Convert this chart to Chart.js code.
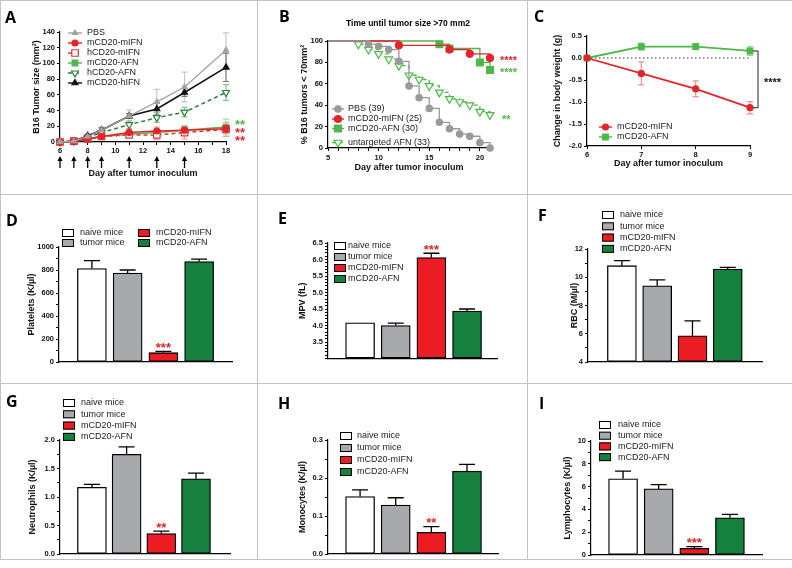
<!doctype html>
<html>
<head>
<meta charset="utf-8">
<title>Tumor growth and blood counts</title>
<script src="https://cdn.jsdelivr.net/npm/chart.js@4/dist/chart.umd.min.js"></script>
<style>
    body { margin: 0; background: #fff; }
    #fig { position: relative; width: 792px; height: 568px; overflow: hidden; }
    #fig canvas { position: absolute; left: 0; top: 0; }
    .rule { position: absolute; background: #c2c2c2; }
</style>
</head>
<body>
<div id="fig">
    <div class="rule" style="left:0;top:0;width:792px;height:1px"></div>
    <div class="rule" style="left:0;top:0;width:1px;height:560px"></div>
    <div class="rule" style="left:0;top:559px;width:792px;height:1px"></div>
    <div class="rule" style="left:257px;top:0;width:1px;height:560px"></div>
    <div class="rule" style="left:527px;top:0;width:1px;height:560px"></div>
    <div class="rule" style="left:0;top:194px;width:792px;height:1px"></div>
    <div class="rule" style="left:0;top:383px;width:792px;height:1px"></div>
    <canvas id="chartA" width="792" height="568"></canvas>
    <canvas id="chartB" width="792" height="568"></canvas>
    <canvas id="chartC" width="792" height="568"></canvas>
    <canvas id="chartD" width="792" height="568"></canvas>
    <canvas id="chartE" width="792" height="568"></canvas>
    <canvas id="chartF" width="792" height="568"></canvas>
    <canvas id="chartG" width="792" height="568"></canvas>
    <canvas id="chartH" width="792" height="568"></canvas>
    <canvas id="chartI" width="792" height="568"></canvas>
</div>
<script>
    // ---- data -------------------------------------------------------------
    // A: tumor growth (mm2), mean and SEM
    var growthDays = [6, 7, 8, 9, 11, 13, 15, 18];
    var injectionDays = [6, 7, 8, 9, 11, 13, 15];
    var growthPBS = [0, 1, 7, 15, 33, 51, 70, 117];
    var growthPBSErr = [0.5, 1, 2, 4, 8, 16, 19, 22];
    var growthMmIFN = [0, 1, 4, 7, 12, 14, 15, 17];
    var growthMmIFNErr = [0.5, 1, 1, 2, 3, 5, 6, 5];
    var growthHmIFN = [0, 1, 4, 7, 9, 9, 12, 16];
    var growthHmIFNErr = [0.5, 1, 1, 2, 3, 6, 8, 9];
    var growthMAFN = [0, 1, 3, 7, 10, 12, 15, 19];
    var growthMAFNErr = [0.5, 1, 1, 2, 3, 4, 6, 10];
    var growthHAFN = [0, 1, 6, 12, 22, 31, 38, 63];
    var growthHAFNErr = [0.5, 1, 2, 3, 5, 6, 6, 10];
    var growthMhIFN = [0, 1, 8, 15, 33, 42, 63, 95];
    var growthMhIFNErr = [0.5, 1, 2, 3, 3, 8, 5, 18];

    // B: % tumors < 70 mm2 (Kaplan-Meier)
    var survPBSDays = [5, 9, 10, 11, 12, 13, 14, 15, 16, 17, 18, 19, 20, 21];
    var survPBS = [100, 97, 95, 92, 81, 58, 47, 37, 24, 18, 13, 11, 5, 0];
    var survMmIFNDays = [5, 12, 17, 19, 21];
    var survMmIFN = [100, 96, 92, 88, 84];
    var survMAFNDays = [5, 16, 17, 20, 21];
    var survMAFN = [100, 97, 93, 80, 73];
    var survAFNDays = [5, 8, 9, 10, 11, 12, 13, 14, 15, 16, 17, 18, 19, 20, 21];
    var survAFN = [100, 97, 92, 88, 83, 77, 68, 64, 58, 52, 46, 43, 40, 34, 31];

    // C: change in body weight (g)
    var weightDays = [6, 7, 8, 9];
    var weightMIFN = [0, -0.35, -0.7, -1.13];
    var weightMIFNErr = [0, 0.26, 0.18, 0.14];
    var weightAFN = [0, 0.26, 0.26, 0.16];
    var weightAFNErr = [0, 0.08, 0.07, 0.1];

    // D-I: blood counts per group
    var groups = ['naive mice', 'tumor mice', 'mCD20-mIFN', 'mCD20-AFN'];
    var platelets = [812, 773, 81, 873];
    var plateletsErr = [70, 27, 12, 22];
    var mpv = [4.08, 4.0, 6.06, 4.44];
    var mpvErr = [0, 0.07, 0.13, 0.06];
    var rbc = [10.82, 9.4, 5.86, 10.58];
    var rbcErr = [0.35, 0.42, 1.05, 0.12];
    var neutrophils = [1.17, 1.75, 0.36, 1.32];
    var neutrophilsErr = [0.05, 0.13, 0.04, 0.1];
    var monocytes = [0.151, 0.129, 0.057, 0.218];
    var monocytesErr = [0.018, 0.019, 0.015, 0.018];
    var lymphocytes = [6.68, 5.8, 0.59, 3.27];
    var lymphocytesErr = [0.68, 0.38, 0.15, 0.3];

    // ---- look -------------------------------------------------------------
    var FONT = '"Liberation Sans", Arial, Helvetica, sans-serif';
    var LETTER_FONT = 'bold 16px "Open Sans", "Liberation Sans", sans-serif';
    var PAGE_W = 792, PAGE_H = 568, TITLE_LH = 10.8;
    var RED = '#e3242b', GREEN = '#4db848', DARK_GREEN = '#2e7b3b';
    var groupFill = ['#ffffff', '#a7a9ac', '#ec1c24', '#16803e'];

    function pts(xs, ys) {
        return xs.map(function (x, i) { return {x: x, y: ys[i]}; });
    }

    // turns a plot rectangle (page pixels) into layout padding + axis sizes
    function frame(f) {
        var padLeft = f.yTitleX - TITLE_LH / 2;
        var xBottom = f.xTitleY ? f.xTitleY + TITLE_LH / 2 : f.b;
        f.pad = {left: padLeft, top: f.t, right: PAGE_W - f.r, bottom: PAGE_H - xBottom};
        f.yW = f.l - padLeft;
        f.xH = xBottom - f.b;
        return f;
    }

    function every(step, digits, from) {
        return function (v) {
            var k = Math.round(v / step);
            if (Math.abs(v - k * step) > 1e-6) return '';
            if (from !== undefined && v < from - 1e-6) return '';
            return (k * step).toFixed(digits);
        };
    }

    function tickFont() { return {family: FONT, size: 7.5, weight: 'bold'}; }
    function titleFont() { return {family: FONT, size: 9, weight: 'bold'}; }

    function yAxis(f, min, max, step, label) {
        return {
            type: 'linear', position: 'left', min: min, max: max, offset: false, beginAtZero: false,
            afterFit: function (s) { s.width = f.yW; },
            border: {display: true, color: '#000', width: 1.2},
            grid: {drawOnChartArea: false, tickLength: 3, color: '#000', lineWidth: 1},
            ticks: {stepSize: step, includeBounds: false, autoSkip: false, maxTicksLimit: 200,
                padding: 2, color: '#111', font: tickFont(), callback: label},
            title: {display: true, text: f.yTitle, padding: 0, color: '#111', font: titleFont()}
        };
    }

    function xAxisDays(f, min, max, label, pad) {
        return {
            type: 'linear', position: 'bottom', min: min, max: max,
            afterFit: function (s) { s.height = f.xH; },
            border: {display: true, color: '#000', width: 1.2},
            grid: {drawOnChartArea: false, tickLength: 3, color: '#000', lineWidth: 1},
            ticks: {stepSize: 1, includeBounds: false, autoSkip: false, maxTicksLimit: 200, maxRotation: 0,
                padding: pad, color: '#111', font: tickFont(), callback: label},
            title: {display: true, text: 'Day after tumor inoculum', padding: 0, color: '#111', font: titleFont()}
        };
    }

    function xAxisBars(f) {
        return {
            type: 'linear', position: 'bottom', min: f.xmin, max: f.xmax, offset: false,
            afterFit: function (s) { s.height = 0; },
            border: {display: true, color: '#000', width: 1.2},
            grid: {display: false, offset: false},
            ticks: {display: false}
        };
    }

    function baseOptions(f, scales) {
        return {
            responsive: false,
            animation: false,
            events: [],
            layout: {padding: f.pad, autoPadding: false},
            plugins: {legend: {display: false}, tooltip: {enabled: false}},
            scales: scales
        };
    }

    function lineSeries(label, xs, ys, errs, st) {
        return {
            label: label, data: pts(xs, ys),
            err: errs, errBoth: true, errColor: st.errColor, capHalf: 3,
            borderColor: st.color, backgroundColor: st.color,
            borderWidth: st.width || 1.5, borderDash: st.dash || [],
            pointStyle: st.style, pointRotation: st.rot || 0,
            pointRadius: st.skipFirst ? xs.map(function (x, i) { return i === 0 ? 0 : st.r; }) : st.r,
            legendRadius: st.r,
            pointBackgroundColor: st.fill, pointBorderColor: st.color, pointBorderWidth: 1.2,
            stepped: st.stepped || false, tension: 0, fill: false, clip: false
        };
    }

    function barSeries(values, errs, base) {
        return {
            data: pts([0, 1, 2, 3], values), err: errs, errColor: '#000', errWidth: 1.3, capHalf: 8,
            base: base,
            backgroundColor: groupFill, borderColor: '#000', borderWidth: 1.3,
            borderSkipped: false, barThickness: 29
        };
    }

    // ---- drawing helpers --------------------------------------------------
    function drawMarker(ctx, style, rot, x, y, r, fill, stroke) {
        ctx.save();
        ctx.setLineDash([]);
        ctx.beginPath();
        if (style === 'circle') {
            ctx.arc(x, y, r, 0, Math.PI * 2);
        } else if (style === 'rect') {
            var s = r * Math.SQRT1_2;
            ctx.rect(x - s, y - s, 2 * s, 2 * s);
        } else {
            var a = (rot || 0) * Math.PI / 180;
            for (var k = 0; k < 3; k++) {
                var px = x + Math.sin(a) * r, py = y - Math.cos(a) * r;
                if (k === 0) ctx.moveTo(px, py); else ctx.lineTo(px, py);
                a += Math.PI * 2 / 3;
            }
            ctx.closePath();
        }
        ctx.fillStyle = fill;
        ctx.fill();
        ctx.lineWidth = 1.2;
        ctx.strokeStyle = stroke;
        ctx.stroke();
        ctx.restore();
    }

    function stars(ctx, text, x, yc, size, color, align) {
        ctx.font = 'bold ' + size + 'px ' + FONT;
        ctx.fillStyle = color;
        ctx.textAlign = align || 'left';
        ctx.textBaseline = 'alphabetic';
        ctx.fillText(text, x, yc + 0.58 * size);
    }

    function extras(spec) {
        return {
            id: 'extras',
            beforeDatasetsDraw: function (chart) {
                var ctx = chart.ctx, ys = chart.scales.y;
                chart.data.datasets.forEach(function (ds, i) {
                    if (!ds.err) return;
                    var meta = chart.getDatasetMeta(i);
                    ctx.save();
                    ctx.strokeStyle = ds.errColor;
                    ctx.lineWidth = ds.errWidth || 1.2;
                    meta.data.forEach(function (el, j) {
                        var e = ds.err[j];
                        if (!e) return;
                        var v = ds.data[j].y, cap = ds.capHalf;
                        var top = ys.getPixelForValue(v + e);
                        var bot = ds.errBoth ? ys.getPixelForValue(v - e) : el.y;
                        ctx.beginPath();
                        ctx.moveTo(el.x, top); ctx.lineTo(el.x, bot);
                        ctx.moveTo(el.x - cap, top); ctx.lineTo(el.x + cap, top);
                        if (ds.errBoth) { ctx.moveTo(el.x - cap, bot); ctx.lineTo(el.x + cap, bot); }
                        ctx.stroke();
                    });
                    ctx.restore();
                });
            },
            afterDraw: function (chart) {
                var ctx = chart.ctx;
                ctx.save();
                ctx.fillStyle = '#000';
                ctx.font = LETTER_FONT;
                ctx.textAlign = 'left';
                ctx.textBaseline = 'middle';
                ctx.fillText(spec.letter[0], spec.letter[1], spec.letter[2]);

                if (spec.title) {
                    ctx.font = 'bold 8.5px ' + FONT;
                    ctx.textAlign = 'center';
                    ctx.fillText(spec.title[0], spec.title[1], spec.title[2]);
                }

                var lg = spec.legend;
                if (lg && lg.kind === 'line') {
                    var items = chart.data.datasets.filter(function (d) { return d.legend !== false; });
                    items.forEach(function (d, i) {
                        var y = lg.ys ? lg.ys[i] : lg.y + i * lg.dy;
                        ctx.save();
                        ctx.strokeStyle = d.borderColor;
                        ctx.lineWidth = 1.4;
                        ctx.setLineDash(d.borderDash);
                        ctx.beginPath();
                        ctx.moveTo(lg.x, y); ctx.lineTo(lg.x + lg.w, y);
                        ctx.stroke();
                        ctx.restore();
                        drawMarker(ctx, d.pointStyle, d.pointRotation, lg.x + lg.w / 2, y,
                            d.legendRadius, d.pointBackgroundColor, d.pointBorderColor);
                        ctx.font = '9px ' + FONT;
                        ctx.fillStyle = '#222';
                        ctx.textAlign = 'left';
                        ctx.textBaseline = 'middle';
                        ctx.fillText(d.label, lg.textX, y);
                    });
                }
                if (lg && lg.kind === 'box') {
                    groups.forEach(function (g, i) {
                        var p = lg.pos ? lg.pos[i] : [lg.x, lg.y + i * lg.dy];
                        ctx.fillStyle = groupFill[i];
                        ctx.fillRect(p[0], p[1] - 4, 12, 8);
                        ctx.lineWidth = 1;
                        ctx.strokeStyle = '#000';
                        ctx.strokeRect(p[0] + 0.5, p[1] - 3.5, 11, 7);
                        ctx.font = '9px ' + FONT;
                        ctx.fillStyle = '#222';
                        ctx.textAlign = 'left';
                        ctx.textBaseline = 'middle';
                        ctx.fillText(g, p[0] + lg.textDx, p[1]);
                    });
                }

                (spec.notes || []).forEach(function (n) {
                    stars(ctx, n.text, n.x, n.y, n.size, n.color);
                });

                if (spec.barStar) {
                    var ds = chart.data.datasets[0], el = chart.getDatasetMeta(0).data[spec.barStar.i];
                    var i2 = spec.barStar.i;
                    var top = chart.scales.y.getPixelForValue(ds.data[i2].y + ds.err[i2]);
                    stars(ctx, spec.barStar.text, el.x, top - 7, 13, RED, 'center');
                }

                if (spec.arrows) {
                    var xs = chart.scales.x;
                    ctx.strokeStyle = '#000';
                    ctx.fillStyle = '#000';
                    ctx.lineWidth = 1.3;
                    spec.arrows.days.forEach(function (d) {
                        var x = xs.getPixelForValue(d);
                        ctx.beginPath();
                        ctx.moveTo(x, spec.arrows.tail); ctx.lineTo(x, spec.arrows.tip + 4);
                        ctx.stroke();
                        ctx.beginPath();
                        ctx.moveTo(x, spec.arrows.tip);
                        ctx.lineTo(x - 2.6, spec.arrows.tip + 5);
                        ctx.lineTo(x + 2.6, spec.arrows.tip + 5);
                        ctx.closePath();
                        ctx.fill();
                    });
                }

                if (spec.bracket) {
                    var b = spec.bracket, sy = chart.scales.y;
                    var y1 = sy.getPixelForValue(chart.data.datasets[b.from[0]].data[b.from[1]].y);
                    var y2 = sy.getPixelForValue(chart.data.datasets[b.to[0]].data[b.to[1]].y);
                    ctx.strokeStyle = '#222';
                    ctx.lineWidth = 1;
                    ctx.beginPath();
                    ctx.moveTo(b.x - 5, y1); ctx.lineTo(b.x, y1); ctx.lineTo(b.x, y2); ctx.lineTo(b.x - 5, y2);
                    ctx.stroke();
                    stars(ctx, '****', b.x + 6, (y1 + y2) / 2, 11, '#111');
                }
                ctx.restore();
            }
        };
    }

    // ---- panel geometry (page pixels) --------------------------------------
    var fA = frame({l: 60, t: 32, r: 226, b: 142, yTitleX: 37, xTitleY: 174, yTitle: 'B16 Tumor size (mm²)'});
    var fB = frame({l: 328, t: 41, r: 490, b: 148, yTitleX: 305, xTitleY: 168, yTitle: '% B16 tumors < 70mm²'});
    var fC = frame({l: 587, t: 36, r: 750, b: 146, yTitleX: 558, xTitleY: 164, yTitle: 'Change in body weight (g)'});
    var fD = frame({l: 59, t: 247, r: 232, b: 362, yTitleX: 32, yTitle: 'Platelets (K/µl)', xmin: -0.92, xmax: 3.92});
    var fE = frame({l: 328, t: 243, r: 497, b: 358.5, yTitleX: 303, yTitle: 'MPV (fL)', xmin: -0.9, xmax: 3.84});
    var fF = frame({l: 588, t: 249, r: 762, b: 362, yTitleX: 575, yTitle: 'RBC (M/µl)', xmin: -0.96, xmax: 3.97});
    var fG = frame({l: 60, t: 440, r: 230, b: 554, yTitleX: 33, yTitle: 'Neutrophils (K/µl)', xmin: -0.92, xmax: 3.98});
    var fH = frame({l: 328, t: 440, r: 498, b: 554, yTitleX: 303, yTitle: 'Monocytes (K/µl)', xmin: -0.9, xmax: 3.87});
    var fI = frame({l: 591, t: 441, r: 762, b: 555, yTitleX: 568, yTitle: 'Lymphocytes (K/µl)', xmin: -0.9, xmax: 3.9});

    // ---- A ----------------------------------------------------------------
    new Chart(document.getElementById('chartA'), {
        type: 'line',
        data: {datasets: [
            lineSeries('PBS', growthDays, growthPBS, growthPBSErr,
                {color: '#a3a3a3', errColor: '#c8c8c8', style: 'triangle', r: 3, fill: '#a3a3a3', width: 1.3}),
            lineSeries('mCD20-mIFN', growthDays, growthMmIFN, growthMmIFNErr,
                {color: RED, errColor: '#f19a9c', style: 'circle', r: 3, fill: RED}),
            lineSeries('hCD20-mIFN', growthDays, growthHmIFN, growthHmIFNErr,
                {color: '#d9353a', errColor: '#eea0a2', style: 'rect', r: 4.6, fill: '#fff', dash: [4, 3]}),
            lineSeries('mCD20-AFN', growthDays, growthMAFN, growthMAFNErr,
                {color: GREEN, errColor: '#a9dca9', style: 'rect', r: 4, fill: GREEN}),
            lineSeries('hCD20-AFN', growthDays, growthHAFN, growthHAFNErr,
                {color: DARK_GREEN, errColor: '#8fbf96', style: 'triangle', rot: 180, r: 4, fill: '#fff', dash: [4, 3]}),
            lineSeries('mCD20-hIFN', growthDays, growthMhIFN, growthMhIFNErr,
                {color: '#111', errColor: '#777', style: 'triangle', r: 3.5, fill: '#111'})
        ]},
        options: baseOptions(fA, {
            x: xAxisDays(fA, 6, 18, every(2, 0), 1),
            y: yAxis(fA, 0, 140, 20, every(20, 0))
        }),
        plugins: [extras({
            letter: ['A', 5, 18],
            legend: {kind: 'line', x: 68, y: 33, dy: 10, w: 14, textX: 87},
            notes: [
                {text: '**', x: 235, y: 121, size: 13, color: GREEN},
                {text: '**', x: 235, y: 129, size: 13, color: RED},
                {text: '**', x: 235, y: 137, size: 13, color: RED}
            ],
            arrows: {days: injectionDays, tip: 156, tail: 168}
        })]
    });

    // ---- B ----------------------------------------------------------------
    new Chart(document.getElementById('chartB'), {
        type: 'line',
        data: {datasets: [
            lineSeries('PBS (39)', survPBSDays, survPBS, null,
                {color: '#9a9a9a', style: 'circle', r: 3.2, fill: '#9a9a9a', width: 1.3, stepped: true, skipFirst: true}),
            lineSeries('mCD20-mIFN (25)', survMmIFNDays, survMmIFN, null,
                {color: RED, style: 'circle', r: 3.5, fill: RED, width: 1.3, stepped: true, skipFirst: true}),
            lineSeries('mCD20-AFN (30)', survMAFNDays, survMAFN, null,
                {color: GREEN, style: 'rect', r: 4.8, fill: GREEN, width: 1.3, stepped: true, skipFirst: true}),
            lineSeries('untargeted AFN (33)', survAFNDays, survAFN, null,
                {color: GREEN, style: 'triangle', rot: 180, r: 4.5, fill: '#fff', width: 1.3, dash: [4, 3], stepped: true, skipFirst: true})
        ]},
        options: baseOptions(fB, {
            x: xAxisDays(fB, 5, 21, every(5, 0), 2),
            y: yAxis(fB, 0, 100, 20, every(20, 0))
        }),
        plugins: [extras({
            letter: ['B', 279, 17],
            title: ['Time until tumor size >70 mm2', 408, 24],
            legend: {kind: 'line', x: 332, ys: [109, 119, 128.5, 142.5], w: 12, textX: 348},
            notes: [
                {text: '****', x: 500, y: 58, size: 11, color: RED},
                {text: '****', x: 500, y: 70, size: 11, color: GREEN},
                {text: '**', x: 502, y: 117, size: 11, color: GREEN}
            ]
        })]
    });

    // ---- C ----------------------------------------------------------------
    var zeroLine = {
        data: pts([weightDays[0], weightDays[weightDays.length - 1]], [0, 0]), legend: false,
        borderColor: '#333', borderWidth: 1, borderDash: [1.5, 2.5], pointRadius: 0, clip: false
    };
    new Chart(document.getElementById('chartC'), {
        type: 'line',
        data: {datasets: [
            lineSeries('mCD20-mIFN', weightDays, weightMIFN, weightMIFNErr,
                {color: RED, errColor: '#f08f92', style: 'circle', r: 3, fill: RED, width: 1.8}),
            lineSeries('mCD20-AFN', weightDays, weightAFN, weightAFNErr,
                {color: GREEN, errColor: '#98d598', style: 'rect', r: 4, fill: GREEN, width: 1.8}),
            zeroLine
        ]},
        options: baseOptions(fC, {
            x: xAxisDays(fC, 6, 9, every(1, 0), 1),
            y: yAxis(fC, -2, 0.5, 0.5, every(0.5, 1))
        }),
        plugins: [extras({
            letter: ['C', 534, 17],
            legend: {kind: 'line', x: 599, y: 127, dy: 10, w: 13, textX: 617},
            bracket: {x: 758, from: [1, 3], to: [0, 3]}
        })]
    });

    // ---- D-I --------------------------------------------------------------
    function barPanel(id, f, values, errs, yr, extra) {
        return new Chart(document.getElementById(id), {
            type: 'bar',
            data: {datasets: [barSeries(values, errs, yr[0])]},
            options: baseOptions(f, {
                x: xAxisBars(f),
                y: yAxis(f, yr[0], yr[1], yr[2], yr[3])
            }),
            plugins: [extras(extra)]
        });
    }

    barPanel('chartD', fD, platelets, plateletsErr, [0, 1000, 100, every(200, 0)], {
        letter: ['D', 6, 221],
        legend: {kind: 'box', pos: [[62, 233], [62, 243], [138, 233], [138, 243]], textDx: 18},
        barStar: {i: 2, text: '***'}
    });
    barPanel('chartE', fE, mpv, mpvErr, [3.0, 6.5, 0.1, every(0.5, 1, 3.5)], {
        letter: ['E', 278, 219],
        legend: {kind: 'box', x: 334, y: 246, dy: 11, textDx: 14},
        barStar: {i: 2, text: '***'}
    });
    barPanel('chartF', fF, rbc, rbcErr, [4, 12, 1, every(2, 0)], {
        letter: ['F', 538, 216],
        legend: {kind: 'box', x: 602, y: 215, dy: 11.3, textDx: 18}
    });
    barPanel('chartG', fG, neutrophils, neutrophilsErr, [0, 2, 0.25, every(0.5, 1)], {
        letter: ['G', 6, 402],
        legend: {kind: 'box', x: 63, y: 403, dy: 11.3, textDx: 18},
        barStar: {i: 2, text: '**'}
    });
    barPanel('chartH', fH, monocytes, monocytesErr, [0, 0.3, 0.05, every(0.1, 1)], {
        letter: ['H', 278, 404],
        legend: {kind: 'box', x: 340, y: 436, dy: 12, textDx: 17},
        barStar: {i: 2, text: '**'}
    });
    barPanel('chartI', fI, lymphocytes, lymphocytesErr, [0, 10, 1, every(2, 0)], {
        letter: ['I', 539, 404],
        legend: {kind: 'box', x: 599, y: 425, dy: 10.7, textDx: 19},
        barStar: {i: 2, text: '***'}
    });
</script>
</body>
</html>
